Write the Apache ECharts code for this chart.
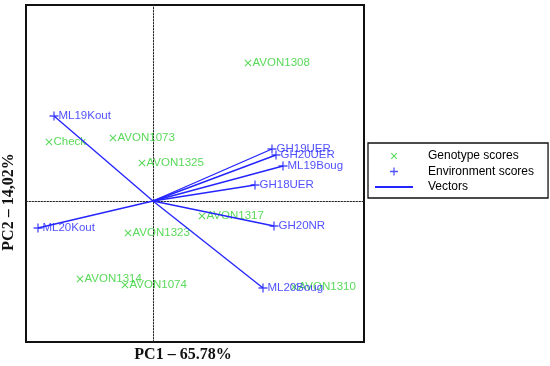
<!DOCTYPE html>
<html>
<head>
<meta charset="utf-8">
<script src="https://cdn.jsdelivr.net/npm/echarts@6/dist/echarts.min.js"></script>
<style>html,body{margin:0;padding:0;background:#fff;}#c{width:550px;height:366px;}</style>
</head>
<body>
<div id="c"></div>
<script>
// Genotype scores (PC1, PC2)
const genotypeNames = ['AVON1308','Check','AVON1073','AVON1325','AVON1317','AVON1323','AVON1314','AVON1074','AVON1310'];
const genotypePC1 = [0.95, -1.04, -0.40, -0.11, 0.49, -0.25, -0.73, -0.28, 1.41];
const genotypePC2 = [1.38, 0.59, 0.63, 0.38, -0.15, -0.32, -0.78, -0.84, -0.86];

// Environment scores (PC1, PC2)
const envNames = ['ML19Kout','GH19UER','GH20UER','ML19Boug','GH18UER','ML20Kout','GH20NR','ML20Boug'];
const envPC1 = [-0.99, 1.19, 1.23, 1.30, 1.02, -1.15, 1.21, 1.10];
const envPC2 = [0.85, 0.52, 0.46, 0.35, 0.16, -0.27, -0.25, -0.87];

const xRange = [-1.27, 2.11];
const yRange = [-1.41, 1.96];
const xTitle = 'PC1 \u2013 65.78%';
const yTitle = 'PC2 \u2013 14,02%';

const GREEN = '#2fd02f';
const BLUE = '#2424ff';

function plusPts(a, h) {
  return [[-h,-a],[h,-a],[h,-h],[a,-h],[a,h],[h,h],[h,a],[-h,a],[-h,h],[-a,h],[-a,-h],[-h,-h]];
}
function toPath(pts, rot, pad) {
  const s = Math.SQRT1_2;
  const p = pts.map(([x,y]) => rot ? [(x - y) * s, (x + y) * s] : [x, y]);
  let d = '';
  if (pad) d += 'M' + pad[0] + ',' + pad[1] + ' M' + pad[2] + ',' + pad[3] + ' ';
  d += 'M' + p.map(q => q[0].toFixed(3) + ',' + q[1].toFixed(3)).join(' L') + ' Z';
  return 'path://' + d;
}
const crossSym = toPath(plusPts(5, 0.6), true);
const plusSym = toPath(plusPts(5, 0.75), false);
// legend icons padded into a 38x12 box
const crossIcon = toPath(plusPts(5, 0.7), true, [-24, -7.6, 24, 7.6]);
const plusIcon = toPath(plusPts(5, 0.8), false, [-24, -7.6, 24, 7.6]);
const lineIcon = 'path://M0,0 L38,0 L38,2 L0,2 Z';

const genoData = genotypeNames.map((n, i) => ({ name: n, value: [genotypePC1[i], genotypePC2[i]] }));
const envData = envNames.map((n, i) => ({ name: n, value: [envPC1[i], envPC2[i]] }));
const vecData = envNames.map((n, i) => ({ coords: [[0, 0], [envPC1[i], envPC2[i]]] }));

const labelFont = 'Liberation Sans, Arial, sans-serif';
const titleFont = 'bold 16px "Liberation Serif", "Times New Roman", serif';

const chart = echarts.init(document.getElementById('c'));
chart.setOption({
  animation: false,
  backgroundColor: '#fff',
  grid: { left: 26, top: 5, width: 338, height: 337, show: true, borderColor: '#111', borderWidth: 2, backgroundColor: 'transparent' },
  xAxis: {
    type: 'value', min: xRange[0], max: xRange[1],
    axisLine: { show: true, onZero: true, lineStyle: { color: '#222', width: 1, type: [1.5, 1.5] } },
    axisTick: { show: false }, axisLabel: { show: false }, splitLine: { show: false }
  },
  yAxis: {
    type: 'value', min: yRange[0], max: yRange[1],
    axisLine: { show: true, onZero: true, lineStyle: { color: '#222', width: 1, type: [1.5, 1.5] } },
    axisTick: { show: false }, axisLabel: { show: false }, splitLine: { show: false }
  },
  legend: {
    orient: 'vertical', left: 368, top: 143,
    padding: [7, 14, 5, 7],
    borderColor: '#111', borderWidth: 1.3,
    itemWidth: 38, itemHeight: 12, itemGap: 3.5,
    textStyle: { fontFamily: labelFont, fontSize: 12, color: '#000', padding: [0, 0, 0, 10] },
    data: [
      { name: 'Genotype scores', icon: crossIcon, itemStyle: { color: GREEN, borderWidth: 0 } },
      { name: 'Environment scores', icon: plusIcon, itemStyle: { color: BLUE, borderWidth: 0 } },
      { name: 'Vectors', icon: lineIcon, itemStyle: { color: BLUE, borderWidth: 0 } }
    ]
  },
  graphic: [
    { type: 'text', x: 183, y: 355, style: { text: xTitle, align: 'center', verticalAlign: 'middle', font: titleFont, fill: '#111' } },
    { type: 'text', x: 9, y: 202, rotation: Math.PI / 2, style: { text: yTitle, align: 'center', verticalAlign: 'middle', font: titleFont, fill: '#111' } }
  ],
  series: [
    {
      name: 'Vectors', type: 'lines', coordinateSystem: 'cartesian2d', z: 3,
      lineStyle: { color: BLUE, width: 1.35, opacity: 1 },
      data: vecData
    },
    {
      name: 'Genotype scores', type: 'scatter', z: 2,
      symbol: crossSym, symbolSize: 7,
      itemStyle: { color: GREEN },
      label: { show: true, position: 'right', distance: 1, formatter: '{b}', color: GREEN, fontSize: 11.5, fontFamily: labelFont },
      data: genoData
    },
    {
      name: 'Environment scores', type: 'scatter', z: 4,
      symbol: plusSym, symbolSize: 9,
      itemStyle: { color: BLUE },
      label: { show: true, position: 'right', distance: 0, formatter: '{b}', color: BLUE, fontSize: 11.5, fontFamily: labelFont },
      data: envData
    }
  ]
});
</script>
</body>
</html>
